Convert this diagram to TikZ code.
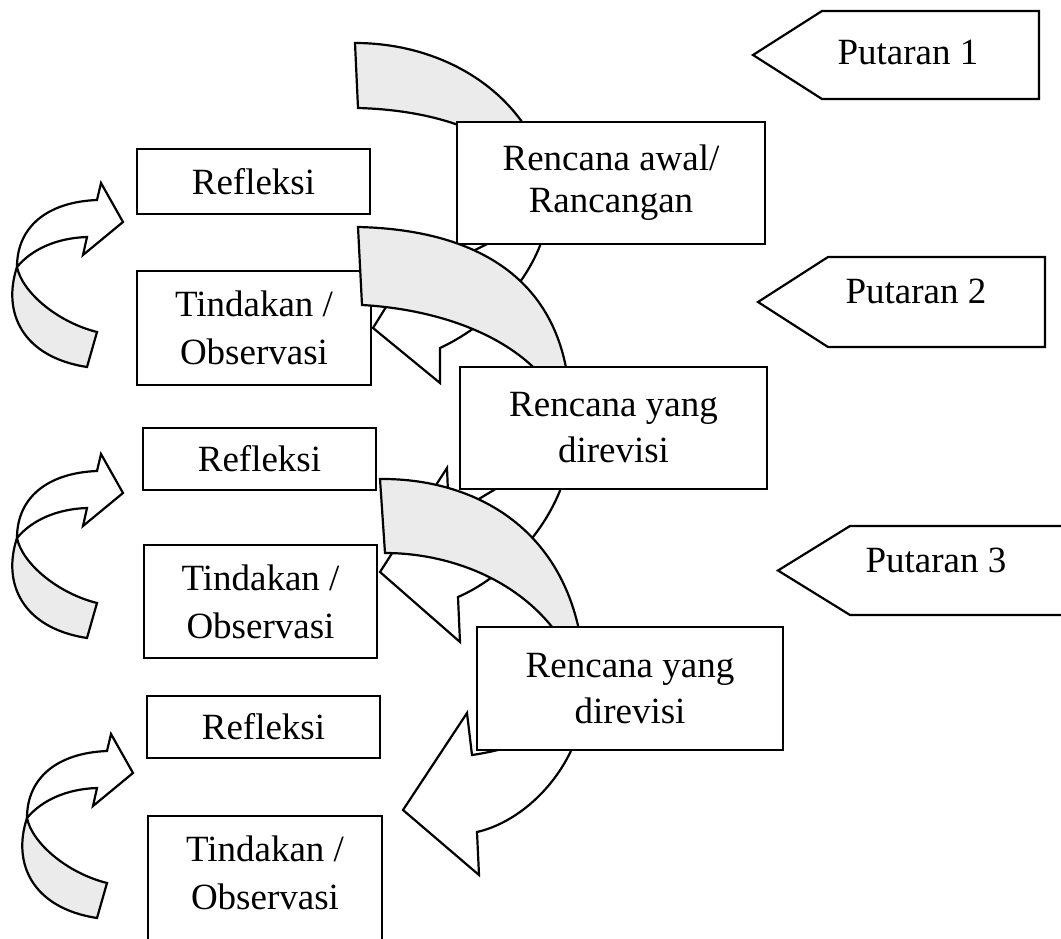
\documentclass[tikz,border=0pt]{standalone}
\usepackage{fontspec}
\setmainfont{Liberation Serif}
\begin{document}
\begin{tikzpicture}[x=1pt,y=-1pt,
  lw/.style={line width=2.2pt},
  txt/.style={font=\fontsize{37}{48}\selectfont, inner sep=0pt},
  box/.style={lw, draw=black, fill=white, align=center, inner sep=0pt, font=\fontsize{37}{48}\selectfont},
  rbox/.style={box, font=\fontsize{37}{46}\selectfont},
  backband/.style={lw, draw=black, fill=black!8},
  frontband/.style={lw, draw=black, fill=white},
  tag/.style={lw, draw=black, fill=white}]
\useasboundingbox (0,0) rectangle (1061,939);

% left boxes
\node[box, minimum width=233pt, minimum height=65pt] (ref1) at (253.5,181.5) {Refleksi};
\node[box, minimum width=234pt, minimum height=114pt] (tin1) at (254,328) {Tindakan /\\Observasi};
\node[box, minimum width=233pt, minimum height=62pt] (ref2) at (259.5,459) {Refleksi};
\node[box, minimum width=233pt, minimum height=113pt] (tin2) at (260.5,601.5) {Tindakan /\\Observasi};
\node[box, minimum width=233pt, minimum height=62pt] (ref3) at (263.5,727) {Refleksi};
\node[box, minimum width=234pt, minimum height=140pt, anchor=north] (tin3) at (265,815)
  {\raisebox{10pt}[\height][\depth]{\begin{tabular}{@{}c@{}}Tindakan /\\Observasi\end{tabular}}};

% left curved arrows
\foreach \px/\py in {17/267, 17/538, 27/818}{
  \begin{scope}[shift={(\px,\py)}]
    \draw[backband] (0,0) .. controls (-15,45) and (5,90) .. (70,100) -- (80,65)
      .. controls (40,55) and (5,25) .. (0,0) -- cycle;
    \draw[frontband] (0,0) .. controls (0,-40) and (30,-65) .. (80,-67) -- (84,-84)
      -- (106,-45) -- (66,-12) -- (70,-30) .. controls (40,-29) and (15,-18) .. (0,0) -- cycle;
  \end{scope}
}

% middle arrow 1
\draw[backband] (355,43) .. controls (455,43) and (540,105) .. (550,195)
  .. controls (510,130) and (430,110) .. (358,108) -- cycle;
\draw[frontband] (550,195) .. controls (550,260) and (500,320) .. (440,348) -- (440,383)
  -- (373,328) -- (425,244) -- (440,268) .. controls (480,245) and (520,235) .. (550,195) -- cycle;
\node[box, font=\fontsize{37}{42}\selectfont, minimum width=308pt, minimum height=122pt] (ren1) at (611,183) {Rencana awal/\\Rancangan};

% middle arrow 2
\draw[backband] (358,227) .. controls (490,230) and (575,290) .. (570,425)
  .. controls (545,345) and (450,310) .. (362,305) -- cycle;
\draw[frontband] (570,425) .. controls (578,495) and (520,570) .. (458,597) -- (460,642)
  -- (380,572) -- (447,468) -- (449,517) .. controls (495,488) and (545,465) .. (570,425) -- cycle;
\node[rbox, minimum width=307pt, minimum height=122pt] (ren2) at (613.5,428) {Rencana yang\\direvisi};

% middle arrow 3
\draw[backband] (380,479) .. controls (480,478) and (585,535) .. (585,690)
  .. controls (555,590) and (460,553) .. (385,553) -- cycle;
\draw[frontband] (585,690) .. controls (585,760) and (530,820) .. (477,832) -- (479,875)
  -- (403,810) -- (467,713) -- (472,755) .. controls (520,748) and (565,730) .. (585,690) -- cycle;
\node[rbox, minimum width=306pt, minimum height=123pt] (ren3) at (630,688.5) {Rencana yang\\direvisi};

% Putaran tags
\draw[tag] (753,55) -- (822,11) -- (1039,11) -- (1039,99) -- (822,99) -- cycle;
\node[txt, anchor=base] (put1) at (908,65) {Putaran 1};
\draw[tag] (758,302) -- (828,257) -- (1045,257) -- (1045,347) -- (828,347) -- cycle;
\node[txt, anchor=base] (put2) at (916,303) {Putaran 2};
\draw[tag] (778,570.5) -- (850,526) -- (1075,526) -- (1075,615) -- (850,615) -- cycle;
\node[txt, anchor=base] (put3) at (936,572) {Putaran 3};
\end{tikzpicture}
\end{document}
